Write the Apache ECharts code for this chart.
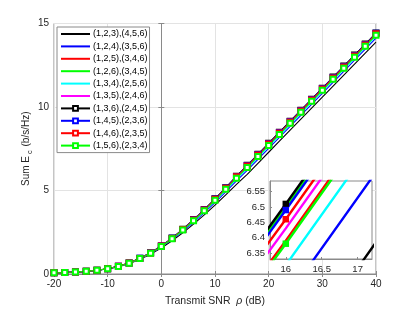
<!DOCTYPE html>
<html><head><meta charset="utf-8">
<script src="https://cdn.jsdelivr.net/npm/echarts@6/dist/echarts.min.js"></script>
<style>html,body{margin:0;padding:0;background:#fff}#c{width:415px;height:312px}</style>
</head><body><div id="c"></div>
<script>
const snr = [-20,-18,-16,-14,-12,-10,-8,-6,-4,-2,0,2,4,6,8,10,12,14,16,18,20,22,24,26,28,30,32,34,36,38,40];
const xTicks = [-20,-10,0,10,20,30,40];
const yTicks = [0,5,10,15];
const insetXTicks = [16,16.5,17];
const insetYTicks = [6.35,6.4,6.45,6.5,6.55];
const names = ['(1,2,3),(4,5,6)','(1,2,4),(3,5,6)','(1,2,5),(3,4,6)','(1,2,6),(3,4,5)','(1,3,4),(2,5,6)','(1,3,5),(2,4,6)','(1,3,6),(2,4,5)','(1,4,5),(2,3,6)','(1,4,6),(2,3,5)','(1,5,6),(2,3,4)'];
const s123 = [0.07,0.09,0.12,0.16,0.22,0.30,0.44,0.62,0.89,1.19,1.56,1.99,2.46,2.99,3.54,4.12,4.74,5.37,5.97,6.63,7.29,7.95,8.61,9.27,9.93,10.59,11.25,11.91,12.57,13.23,13.89];
const s124 = [0.07,0.09,0.12,0.16,0.22,0.30,0.45,0.64,0.91,1.22,1.61,2.06,2.56,3.10,3.67,4.28,4.92,5.58,6.20,6.86,7.52,8.18,8.84,9.50,10.16,10.82,11.48,12.14,12.80,13.46,14.12];
const s125 = [0.07,0.09,0.12,0.16,0.22,0.31,0.46,0.65,0.93,1.25,1.65,2.11,2.63,3.20,3.79,4.42,5.07,5.75,6.39,7.05,7.71,8.37,9.03,9.69,10.35,11.01,11.67,12.33,12.99,13.65,14.31];
const s126 = [0.07,0.09,0.12,0.16,0.22,0.31,0.46,0.66,0.94,1.27,1.68,2.15,2.68,3.26,3.86,4.49,5.16,5.85,6.50,7.16,7.82,8.48,9.14,9.80,10.46,11.12,11.78,12.44,13.10,13.76,14.42];
const s134 = [0.07,0.09,0.12,0.16,0.22,0.31,0.45,0.65,0.92,1.24,1.64,2.09,2.60,3.16,3.74,4.36,5.01,5.68,6.31,6.97,7.63,8.29,8.95,9.61,10.27,10.93,11.59,12.25,12.91,13.57,14.23];
const s135 = [0.07,0.09,0.12,0.16,0.22,0.31,0.46,0.65,0.93,1.26,1.66,2.13,2.65,3.22,3.81,4.44,5.11,5.79,6.43,7.09,7.75,8.41,9.07,9.73,10.39,11.05,11.71,12.37,13.03,13.69,14.35];
const s136 = [0.07,0.09,0.12,0.16,0.22,0.31,0.46,0.66,0.94,1.27,1.68,2.15,2.68,3.26,3.86,4.50,5.17,5.86,6.51,7.17,7.83,8.49,9.15,9.81,10.47,11.13,11.79,12.45,13.11,13.77,14.43];
const s145 = [0.07,0.09,0.12,0.16,0.22,0.31,0.46,0.66,0.94,1.27,1.68,2.14,2.67,3.25,3.85,4.49,5.15,5.84,6.49,7.15,7.81,8.47,9.13,9.79,10.45,11.11,11.77,12.43,13.09,13.75,14.41];
const s146 = [0.07,0.09,0.12,0.16,0.22,0.31,0.46,0.66,0.93,1.26,1.67,2.13,2.66,3.24,3.83,4.47,5.13,5.82,6.46,7.12,7.78,8.44,9.10,9.76,10.42,11.08,11.74,12.40,13.06,13.72,14.38];
const s156 = [0.07,0.09,0.12,0.16,0.22,0.31,0.45,0.65,0.93,1.25,1.65,2.11,2.63,3.19,3.78,4.41,5.07,5.74,6.38,7.04,7.70,8.36,9.02,9.68,10.34,11.00,11.66,12.32,12.98,13.64,14.30];

const seriesVals = [s123,s124,s125,s126,s134,s135,s136,s145,s146,s156];
const colors = ['#000000','#0000ff','#ff0000','#00ff00','#00ffff','#ff00ff','#000000','#0000ff','#ff0000','#00ff00'];
const hasMarker = [false,false,false,false,false,false,true,true,true,true];

const FONT = 'Liberation Sans, Arial, sans-serif';
const AX = '#8a8a8a';
const TXT = '#262626';
const GRIDC = '#e3e3e3';

const series = [];
seriesVals.forEach((v,k)=>{
  const d = snr.map((x,i)=>[x,v[i]]);
  series.push({
    name: names[k], type:'line', xAxisIndex:0, yAxisIndex:0, data:d,
    symbol: hasMarker[k] ? 'emptyRect' : 'none', symbolSize: 5, showSymbol: hasMarker[k],
    lineStyle:{color:colors[k], width:1.1}, itemStyle:{color:colors[k], borderWidth:1},
    animation:false, z:2
  });
});
// inset grid lines, placed at the inset tick values
series.push({
  type:'line', xAxisIndex:2, yAxisIndex:2, data:[], z:11, silent:true, animation:false,
  markLine:{silent:true, symbol:['none','none'], label:{show:false}, animation:false,
    lineStyle:{color:GRIDC, width:1, type:'solid'},
    data: insetXTicks.map(t=>({xAxis:t})).concat(insetYTicks.map(t=>({yAxis:t})))}
});
seriesVals.forEach((v,k)=>{
  const d = snr.map((x,i)=>[x,v[i]]);
  series.push({
    name: names[k], type:'line', xAxisIndex:2, yAxisIndex:2, data:d,
    symbol: hasMarker[k] ? 'rect' : 'none', symbolSize: 6.5, showSymbol: hasMarker[k],
    lineStyle:{color:colors[k], width:2.4}, itemStyle:{color:colors[k]},
    animation:false, z:12, clip:true
  });
});

const legendData = names.map((n,k)=> hasMarker[k] ? {name:n} : {name:n, itemStyle:{opacity:0}});

const chart = echarts.init(document.getElementById('c'), null, {renderer:'canvas'});
chart.setOption({
  animation:false,
  backgroundColor:'#fff',
  textStyle:{fontFamily:FONT},
  grid:[
    {left:54, right:39, top:23.5, bottom:34, show:true, borderColor:AX, borderWidth:1, backgroundColor:'#fff'},
    {left:270, right:43, top:181, bottom:53, show:true, borderColor:AX, borderWidth:1, backgroundColor:'#fff', z:10}
  ],
  legend:{
    data:legendData, orient:'vertical', left:57, top:27,
    backgroundColor:'#fff', borderColor:AX, borderWidth:1,
    padding:[2,2,2,3], itemWidth:29, itemHeight:6, itemGap:2.4,
    textStyle:{fontSize:9, color:'#000', fontFamily:FONT, lineHeight:10, padding:[0,0,0,-2]},
    z:20
  },
  xAxis:[
    {type:'value', gridIndex:0, min:-20, max:40, interval:10,
     name:'Transmit SNR  {i|ρ} (dB)', nameLocation:'middle', nameGap:22, nameMoveOverlap:false,
     nameTextStyle:{fontSize:10.5, color:TXT, fontFamily:FONT, rich:{i:{fontSize:10.5, fontStyle:'italic', color:TXT, fontFamily:FONT}}},
     axisLine:{show:true, lineStyle:{color:AX}}, axisTick:{inside:true, length:3, lineStyle:{color:AX}},
     axisLabel:{fontSize:10, color:TXT, margin:5, fontFamily:FONT},
     splitLine:{show:true, lineStyle:{color:GRIDC, width:1}}},
    {type:'value', gridIndex:0, min:-20, max:40, interval:10, position:'top',
     axisLine:{show:true, lineStyle:{color:AX}}, axisTick:{inside:true, length:3, lineStyle:{color:AX}},
     axisLabel:{show:false}, splitLine:{show:false}},
    {type:'value', gridIndex:1, min:15.78, max:17.2, z:11,
     axisLine:{show:true, lineStyle:{color:AX}},
     axisTick:{inside:true, length:2, customValues:insetXTicks, lineStyle:{color:AX}},
     axisLabel:{fontSize:9.5, color:TXT, margin:5, customValues:insetXTicks, fontFamily:FONT},
     splitLine:{show:false}}
  ],
  yAxis:[
    {type:'value', gridIndex:0, min:0, max:15, interval:5,
     name:'{a|Sum E}{b|c}{a| (b/s/Hz)}', nameLocation:'middle', nameGap:21, nameRotate:90, nameMoveOverlap:false,
     nameTextStyle:{color:TXT, fontFamily:FONT, rich:{a:{fontSize:10, color:TXT, fontFamily:FONT, lineHeight:12, verticalAlign:'top'}, b:{fontSize:7.5, color:TXT, fontFamily:FONT, lineHeight:12, verticalAlign:'top', padding:[5,1,0,2]}}},
     axisLine:{show:true, lineStyle:{color:AX}}, axisTick:{inside:true, length:3, lineStyle:{color:AX}},
     axisLabel:{fontSize:10, color:TXT, margin:5, fontFamily:FONT},
     splitLine:{show:true, lineStyle:{color:GRIDC, width:1}}},
    {type:'value', gridIndex:0, min:0, max:15, interval:5, position:'right',
     axisLine:{show:true, lineStyle:{color:AX}}, axisTick:{inside:true, length:3, lineStyle:{color:AX}},
     axisLabel:{show:false}, splitLine:{show:false}},
    {type:'value', gridIndex:1, min:6.33, max:6.585, z:11,
     axisLine:{show:true, lineStyle:{color:AX}},
     axisTick:{inside:true, length:2, customValues:insetYTicks, lineStyle:{color:AX}},
     axisLabel:{fontSize:9.5, color:TXT, margin:5, customValues:insetYTicks, fontFamily:FONT},
     splitLine:{show:false}}
  ],
  series:series
});
</script></body></html>
